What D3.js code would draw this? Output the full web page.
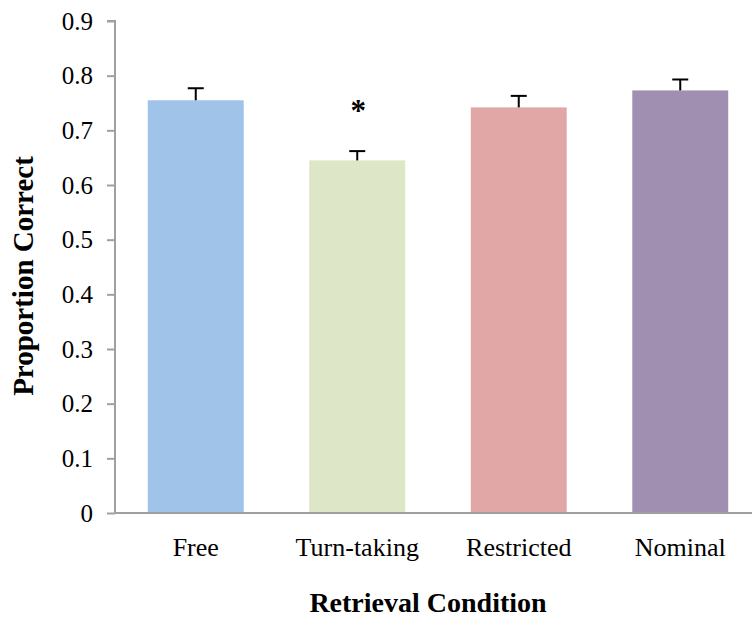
<!DOCTYPE html>
<html>
<head>
<meta charset="utf-8">
<script src="https://cdn.jsdelivr.net/npm/d3@7"></script>
<style>
  html, body { margin: 0; padding: 0; background: #fff; }
  svg { display: block; }
  text { font-family: "Liberation Serif", "Times New Roman", serif; fill: #000; }
</style>
</head>
<body>
<svg id="chart" width="752" height="620"></svg>
<script>
const categories = ["Free", "Turn-taking", "Restricted", "Nominal"];
const means = [0.755, 0.645, 0.742, 0.773];
const errors = [0.022, 0.017, 0.021, 0.020];
const colors = ["#9FC3E9", "#DDE6C7", "#E1A7A6", "#A08FB0"];
const significant = [false, true, false, false];
const tickValues = [0, 0.1, 0.2, 0.3, 0.4, 0.5, 0.6, 0.7, 0.8, 0.9];
const tickLabels = ["0", "0.1", "0.2", "0.3", "0.4", "0.5", "0.6", "0.7", "0.8", "0.9"];
const xTitle = "Retrieval Condition";
const yTitle = "Proportion Correct";

const svg = d3.select("#chart");
const y = d3.scaleLinear().domain([0, 0.9]).range([513, 21]);
const x = d3.scaleBand().domain(categories).range([115, 761])
  .paddingInner(0.406).paddingOuter(0.203);

// bars
svg.selectAll("rect.bar").data(categories).join("rect")
  .attr("class", "bar")
  .attr("x", d => x(d))
  .attr("width", x.bandwidth())
  .attr("y", (d, i) => y(means[i]))
  .attr("height", (d, i) => y(0) - y(means[i]))
  .attr("fill", (d, i) => colors[i]);

// error bars
const eg = svg.append("g").attr("stroke", "#000").attr("stroke-width", 2);
categories.forEach((c, i) => {
  const cx = x(c) + x.bandwidth() / 2;
  eg.append("line").attr("x1", cx).attr("x2", cx)
    .attr("y1", y(means[i])).attr("y2", y(means[i] + errors[i]));
  eg.append("line").attr("x1", cx - 8).attr("x2", cx + 8)
    .attr("y1", y(means[i] + errors[i])).attr("y2", y(means[i] + errors[i]));
});

// significance markers
categories.forEach((c, i) => {
  if (!significant[i]) return;
  svg.append("text")
    .attr("x", x(c) + x.bandwidth() / 2 + 1)
    .attr("y", y(means[i] + errors[i] + 0.055))
    .attr("text-anchor", "middle")
    .attr("font-size", 31)
    .attr("font-weight", "bold")
    .text("*");
});

// y axis
const yAxis = d3.axisLeft(y).tickValues(tickValues)
  .tickFormat((d, i) => tickLabels[i]).tickSize(8).tickPadding(14);
const gy = svg.append("g").attr("transform", "translate(115,0)").call(yAxis);
gy.select(".domain").attr("stroke", "#a0a0a0").attr("stroke-width", 2)
  .attr("d", `M-8,${y(0.9)}H0V${y(0)}`);
gy.selectAll(".tick line").attr("stroke", "#a0a0a0").attr("stroke-width", 2);
gy.selectAll(".tick text").attr("font-size", 25)
  .attr("font-family", "Liberation Serif").attr("fill", "#000");

// x axis
const xAxis = d3.axisBottom(x).tickSize(0).tickPadding(25);
const gx = svg.append("g").attr("transform", `translate(0,${y(0)})`).call(xAxis);
gx.select(".domain").attr("stroke", "#a0a0a0").attr("stroke-width", 2)
  .attr("d", `M115,0H752`);
gx.selectAll(".tick text").attr("font-size", 26)
  .attr("font-family", "Liberation Serif").attr("fill", "#000");

// titles
svg.append("text").attr("x", 428).attr("y", 612)
  .attr("text-anchor", "middle").attr("font-size", 28).attr("font-weight", "bold")
  .text(xTitle);
svg.append("text")
  .attr("transform", `translate(33,${(y(0) + y(0.9)) / 2 + 9}) rotate(-90)`)
  .attr("text-anchor", "middle").attr("font-size", 29).attr("font-weight", "bold")
  .text(yTitle);
</script>
</body>
</html>
